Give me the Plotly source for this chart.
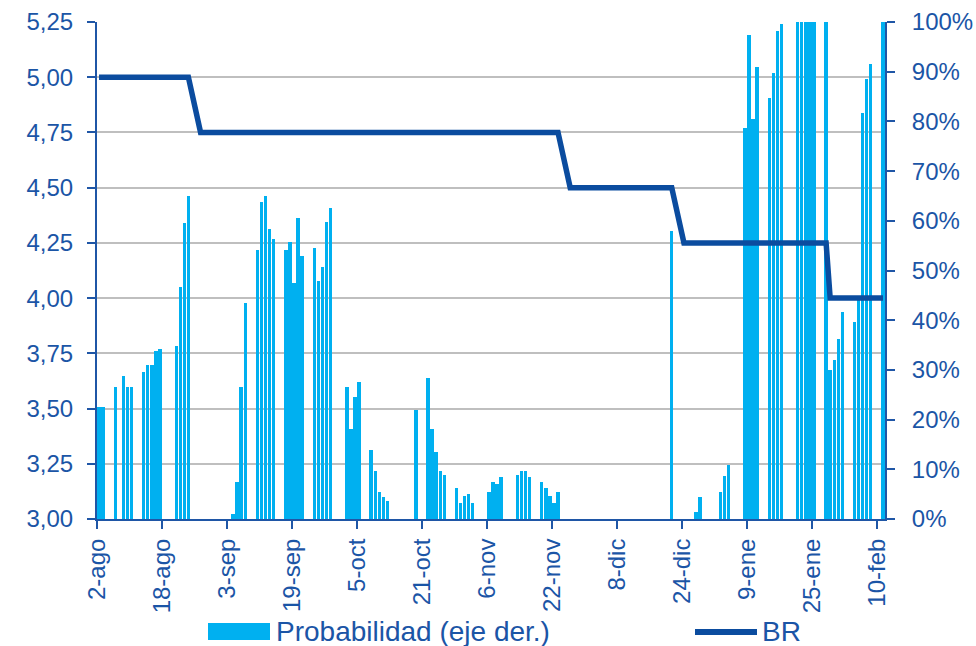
import pandas as pd
import plotly.graph_objects as go

# Daily probability (%) shown as columns, right axis
prob_dates = [
    "2018-08-02", "2018-08-03", "2018-08-06", "2018-08-08", "2018-08-09", "2018-08-10",
    "2018-08-13", "2018-08-14", "2018-08-15", "2018-08-16", "2018-08-17",
    "2018-08-21", "2018-08-22", "2018-08-23", "2018-08-24",
    "2018-09-04", "2018-09-05", "2018-09-06", "2018-09-07",
    "2018-09-10", "2018-09-11", "2018-09-12", "2018-09-13", "2018-09-14",
    "2018-09-17", "2018-09-18", "2018-09-19", "2018-09-20", "2018-09-21",
    "2018-09-24", "2018-09-25", "2018-09-26", "2018-09-27", "2018-09-28",
    "2018-10-02", "2018-10-03", "2018-10-04", "2018-10-05",
    "2018-10-08", "2018-10-09", "2018-10-10", "2018-10-11", "2018-10-12",
    "2018-10-19",
    "2018-10-22", "2018-10-23", "2018-10-24", "2018-10-25", "2018-10-26",
    "2018-10-29", "2018-10-30", "2018-10-31", "2018-11-01", "2018-11-02",
    "2018-11-06", "2018-11-07", "2018-11-08", "2018-11-09",
    "2018-11-13", "2018-11-14", "2018-11-15", "2018-11-16",
    "2018-11-19", "2018-11-20", "2018-11-21", "2018-11-22", "2018-11-23",
    "2018-12-21",
    "2018-12-27", "2018-12-28",
    "2019-01-02", "2019-01-03", "2019-01-04",
    "2019-01-08", "2019-01-09", "2019-01-10", "2019-01-11",
    "2019-01-14", "2019-01-15", "2019-01-16", "2019-01-17",
    "2019-01-21", "2019-01-22", "2019-01-23", "2019-01-24", "2019-01-25",
    "2019-01-28", "2019-01-29", "2019-01-30", "2019-01-31", "2019-02-01",
    "2019-02-04", "2019-02-05", "2019-02-06", "2019-02-07", "2019-02-08",
    "2019-02-11",
]
prob_values = [
    22.5, 22.5, 26.6, 28.8, 26.6, 26.6,
    29.6, 30.9, 30.9, 33.9, 34.3,
    34.9, 46.7, 59.5, 65.0,
    1.1, 7.5, 26.6, 43.5,
    54.1, 63.8, 64.9, 58.4, 56.3,
    54.1, 55.8, 47.4, 60.5, 52.9,
    54.6, 47.8, 50.8, 59.7, 62.6,
    26.6, 18.2, 24.5, 27.5,
    13.9, 9.7, 5.4, 4.5, 3.6,
    21.9,
    28.3, 18.1, 13.4, 9.7, 8.8,
    6.2, 3.3, 4.6, 5.0, 3.3,
    5.4, 7.5, 7.0, 8.4,
    8.8, 9.7, 9.7, 8.4,
    7.5, 6.2, 4.6, 3.3, 5.4,
    58.0,
    1.5, 4.5,
    5.4, 8.7, 10.9,
    78.6, 97.4, 80.5, 91.0,
    84.8, 89.8, 98.2, 99.5,
    100, 100, 100, 100, 100,
    100, 30.0, 32.0, 36.2, 41.6,
    39.6, 44.5, 81.6, 88.5, 91.5,
    100,
]

# BR policy rate (%), left axis: dates where the path turns
br_dates = ["2018-08-02", "2018-08-24", "2018-08-27", "2018-11-23", "2018-11-26",
            "2018-12-21", "2018-12-24", "2019-01-28", "2019-01-29", "2019-02-11"]
br_values = [5.00, 5.00, 4.75, 4.75, 4.50, 4.50, 4.25, 4.25, 4.00, 4.00]

tick_dates = ["2018-08-02", "2018-08-18", "2018-09-03", "2018-09-19", "2018-10-05",
              "2018-10-21", "2018-11-06", "2018-11-22", "2018-12-08", "2018-12-24",
              "2019-01-09", "2019-01-25", "2019-02-10"]
tick_labels = ["2-ago", "18-ago", "3-sep", "19-sep", "5-oct", "21-oct", "6-nov",
               "22-nov", "8-dic", "24-dic", "9-ene", "25-ene", "10-feb"]

BAR_COLOR = "#00B0F0"
LINE_COLOR = "#0B4C9F"
AXIS_COLOR = "#1F56A6"
TEXT_COLOR = "#1B55A6"
GRID_COLOR = "#BFBFBF"
FONT = "Liberation Sans, Arial, sans-serif"

W, H = 976, 646
ML, MR, MT, MB = 97, 91, 22, 127

half_day = pd.Timedelta(hours=12)
bar_x = pd.to_datetime(prob_dates) + half_day
br_x = pd.to_datetime(br_dates) + half_day
day_ms = 86400000

fig = go.Figure()
fig.add_trace(go.Bar(
    x=bar_x, y=prob_values, yaxis="y",
    width=0.84 * day_ms,
    marker=dict(color=BAR_COLOR, line=dict(width=0)),
    name="Probabilidad (eje der.)", showlegend=False,
))
fig.add_trace(go.Scatter(
    x=br_x, y=br_values, yaxis="y2", mode="lines",
    line=dict(color=LINE_COLOR, width=5.5),
    name="BR", showlegend=False,
))

tick_font = dict(family=FONT, size=24, color=TEXT_COLOR)

fig.update_layout(
    width=W, height=H,
    margin=dict(l=ML, r=MR, t=MT, b=MB, pad=0, autoexpand=False),
    paper_bgcolor="white", plot_bgcolor="white",
    separators=",.",
    bargap=0,
    xaxis=dict(
        type="date",
        range=["2018-08-02", "2019-02-12"],
        tickmode="array",
        tickvals=pd.to_datetime(tick_dates),
        ticktext=tick_labels,
        tickangle=-90,
        tickfont=tick_font,
        ticks="outside", ticklen=8, tickwidth=2, tickcolor=AXIS_COLOR,
        showline=True, linecolor=AXIS_COLOR, linewidth=2,
        showgrid=False, zeroline=False, automargin=False,
    ),
    yaxis=dict(
        side="right",
        range=[0, 100], dtick=10, ticksuffix="%",
        tickfont=tick_font,
        ticks="outside", ticklen=8, tickwidth=2, tickcolor=AXIS_COLOR,
        ticklabelstandoff=12,
        showline=True, linecolor=AXIS_COLOR, linewidth=2,
        showgrid=False, zeroline=False, automargin=False,
    ),
    yaxis2=dict(
        side="left", overlaying="y",
        range=[3, 5.25], dtick=0.25, tickformat=".2f",
        tickfont=tick_font,
        ticks="outside", ticklen=8, tickwidth=2, tickcolor=AXIS_COLOR,
        ticklabelstandoff=9,
        showline=True, linecolor=AXIS_COLOR, linewidth=2,
        showgrid=True, gridcolor=GRID_COLOR, gridwidth=2,
        zeroline=False, automargin=False,
    ),
)

# Legend drawn below the axis: swatch + label for each series
pw, ph = W - ML - MR, H - MT - MB


def px_x(x):
    return (x - ML) / pw


def px_y(y):
    return (H - MB - y) / ph


legend_font = dict(family=FONT, size=28, color=TEXT_COLOR)
fig.add_shape(type="rect", xref="paper", yref="paper",
              x0=px_x(208), x1=px_x(270), y0=px_y(640), y1=px_y(623),
              fillcolor=BAR_COLOR, line=dict(width=0))
fig.add_annotation(xref="paper", yref="paper", x=px_x(274), y=px_y(631),
                   xanchor="left", yanchor="middle", showarrow=False,
                   text="Probabilidad (eje der.)", font=legend_font)
fig.add_shape(type="line", xref="paper", yref="paper",
              x0=px_x(695), x1=px_x(757), y0=px_y(632), y1=px_y(632),
              line=dict(color=LINE_COLOR, width=6))
fig.add_annotation(xref="paper", yref="paper", x=px_x(760), y=px_y(631),
                   xanchor="left", yanchor="middle", showarrow=False,
                   text="BR", font=legend_font)

fig.write_html("out.html")
